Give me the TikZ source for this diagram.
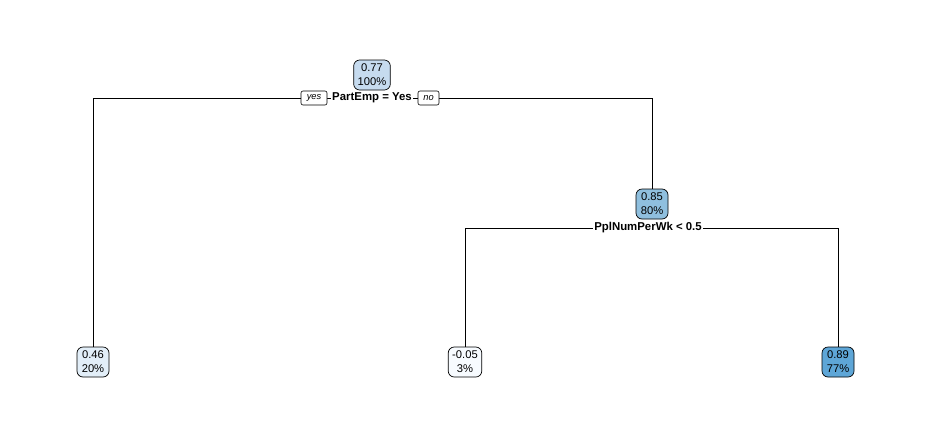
\documentclass[tikz,border=0pt]{standalone}
\usepackage{fontspec}
\setmainfont{Liberation Sans}
\definecolor{cRoot}{HTML}{C6DBEF}
\definecolor{cMid}{HTML}{8FBFDE}
\definecolor{cHi}{HTML}{5EA6D7}
\definecolor{cLow}{HTML}{E2EEF8}
\definecolor{cMin}{HTML}{F7FBFF}
\tikzset{
  treenode/.style={draw, line width=0.7pt, rounded corners=6pt, align=center,
    inner xsep=4pt, inner ysep=1pt, minimum width=32pt, minimum height=30pt,
    font=\fontsize{11.2}{14}\selectfont},
  splitlabel/.style={fill=white, inner xsep=1.5pt, inner ysep=1pt,
    font=\fontsize{11.4}{13}\selectfont\bfseries},
  yesno/.style={draw, fill=white, line width=0.6pt, rounded corners=2pt,
    inner xsep=2pt, inner ysep=1pt, minimum height=14pt,
    font=\fontsize{9.3}{10}\selectfont\itshape},
  branch/.style={line width=0.7pt}
}
\begin{document}
\begin{tikzpicture}[x=1pt,y=-1pt]
\useasboundingbox[fill=white] (0,0) rectangle (932,424);
\coordinate (s1) at (372,98);
\coordinate (s2) at (652,228);
\node[treenode, fill=cRoot] (root) at (372,75) {0.77\\100\%};
\node[treenode, fill=cMid] (n2) at (652,204) {0.85\\80\%};
\node[treenode, fill=cLow] (l1) at (93,362) {0.46\\20\%};
\node[treenode, fill=cMin] (l2) at (465,362) {-0.05\\3\%};
\node[treenode, fill=cHi] (l3) at (838,362) {0.89\\77\%};
\draw[branch] (l1.north) -- (l1.north |- s1) -- (n2.north |- s1) -- (n2.north);
\draw[branch] (l2.north) -- (l2.north |- s2) -- (l3.north |- s2) -- (l3.north);
\node[splitlabel] (t1) at (372,98) {PartEmp = Yes};
\node[yesno, minimum width=26pt] (yes) at (314,98) {yes};
\node[yesno, minimum width=21pt] (no) at (428.5,98) {no};
\node[splitlabel] (t2) at (648,228) {PplNumPerWk < 0.5};
\end{tikzpicture}
\end{document}
